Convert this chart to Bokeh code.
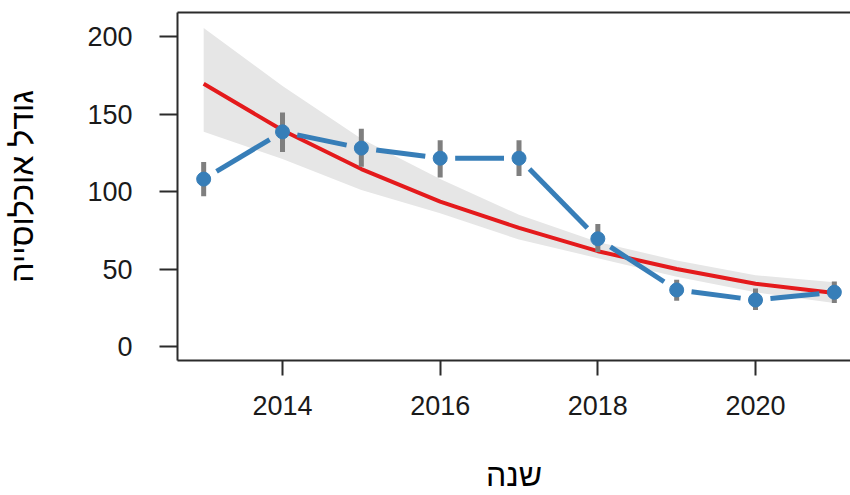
import numpy as np
from bokeh.plotting import figure
from bokeh.models import FixedTicker, LinearAxis, Range1d
from bokeh.embed import file_html
from bokeh.resources import INLINE

# ---- data ----
years = [2013, 2014, 2015, 2016, 2017, 2018, 2019, 2020, 2021]
mean_vals = [108, 138.5, 128, 121.5, 121.5, 69.5, 36.5, 30, 35]
err_low = [97, 125.5, 116, 109, 110, 61, 29.5, 23.5, 28]
err_high = [119, 151, 140.5, 133, 133, 79, 43, 37.5, 42]
fit_vals = [169.5, 139.5, 114.5, 93.5, 76.5, 61.5, 50, 40.5, 34.5]
fit_low = [138.5, 121, 101, 86, 69, 57, 45, 35, 28]
fit_high = [205.5, 168, 134, 108, 85, 67.5, 55.5, 46, 41.5]
x_ticks = [2014, 2016, 2018, 2020]
y_ticks = [0, 50, 100, 150, 200]
x_title = "שנה"
y_title = "גודל אוכלוסייה"

# ---- layout ----
W, H = 850, 495
BL, BR, BT, BB = 177, 0, 12, 135
X0, X1 = 2012.668, 2021.205
Y0, Y1 = -9.03, 215.5
FONT = "Liberation Sans"
TXT = "#1a1a1a"
LINE = "#2b2b2b"

p = figure(width=W, height=H, output_backend="svg", toolbar_location=None,
           x_range=Range1d(X0, X1), y_range=Range1d(Y0, Y1),
           min_border_left=BL, min_border_right=BR, min_border_top=BT,
           min_border_bottom=BB, x_axis_location="below", y_axis_location="left")
p.outline_line_color = None
p.grid.visible = False
p.background_fill_color = "white"
p.border_fill_color = "white"

# ribbon + fitted line
p.varea(x=years, y1=fit_low, y2=fit_high, fill_color="#e6e6e6")
p.line(years, fit_vals, line_color="#e41a1c", line_width=4)

# error bars
p.segment(x0=years, y0=err_low, x1=years, y1=err_high, line_color="#7f7f7f", line_width=5)

# connecting segments with gaps around the points (type="b" style)
fw = W - BL - BR
fh = H - BT - BB
sx = fw / (X1 - X0)
sy = fh / (Y1 - Y0)
gap = 15.0
xa, ya, xb, yb = [], [], [], []
for i in range(len(years) - 1):
    dx = years[i + 1] - years[i]
    dy = mean_vals[i + 1] - mean_vals[i]
    L = np.hypot(dx * sx, dy * sy)
    f = gap / L
    xa.append(years[i] + f * dx)
    ya.append(mean_vals[i] + f * dy)
    xb.append(years[i + 1] - f * dx)
    yb.append(mean_vals[i + 1] - f * dy)
p.segment(x0=xa, y0=ya, x1=xb, y1=yb, line_color="#377eb8", line_width=5)

p.scatter(years, mean_vals, size=14, fill_color="#377eb8", line_color="#377eb8")

# axes
for ax in (p.xaxis[0], p.yaxis[0]):
    ax.axis_line_color = LINE
    ax.axis_line_width = 2
    ax.major_tick_line_color = LINE
    ax.major_tick_line_width = 2
    ax.major_tick_in = 0
    ax.minor_tick_line_color = None
    ax.major_label_text_font = FONT
    ax.major_label_text_font_size = "27px"
    ax.major_label_text_color = TXT
    ax.axis_label_text_font = FONT
    ax.axis_label_text_font_size = "32px"
    ax.axis_label_text_font_style = "normal"
    ax.axis_label_text_color = "black"

p.xaxis[0].ticker = FixedTicker(ticks=x_ticks)
p.yaxis[0].ticker = FixedTicker(ticks=y_ticks)
p.xaxis[0].major_tick_out = 15
p.yaxis[0].major_tick_out = 18
p.xaxis[0].major_label_standoff = 20
p.yaxis[0].major_label_standoff = 27
p.xaxis[0].axis_label = x_title
p.yaxis[0].axis_label = y_title
p.xaxis[0].axis_label_standoff = 39
p.yaxis[0].axis_label_standoff = 44

top = LinearAxis(ticker=FixedTicker(ticks=[]), major_tick_out=0, major_tick_in=0,
                 minor_tick_line_color=None, major_label_text_font_size="0px",
                 major_label_standoff=0, axis_line_color=LINE, axis_line_width=2)
p.add_layout(top, "above")

open("out.html", "w").write(file_html(p, INLINE))
